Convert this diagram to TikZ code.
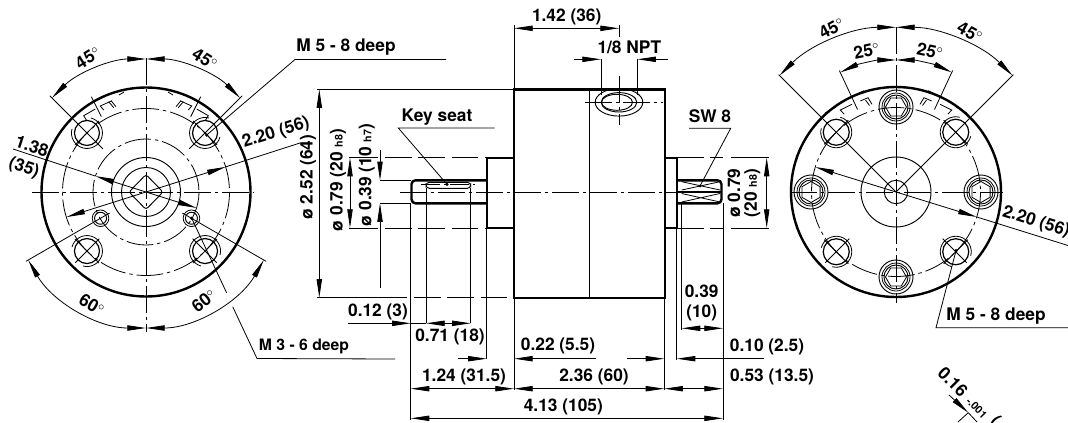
\documentclass[tikz,border=0pt]{standalone}
\usepackage{fontspec}
\setmainfont{TeX Gyre Heros}
\usetikzlibrary{arrows.meta,calc}
\newcommand{\lblfont}{\bfseries\fontsize{13}{15}\selectfont}
\newcommand{\smallfont}{\bfseries\fontsize{11.8}{15}\selectfont}
\newcommand{\subfont}{\fontsize{8}{8}\selectfont}
\newcommand{\dg}{$^{\circ}$}
\tikzset{
	edgeline/.style={line width=1.8pt},
	partline/.style={line width=0.7pt},
	axisline/.style={line width=0.6pt, dash pattern=on 20pt off 3pt on 2.5pt off 3pt},
	gapline/.style={line width=0.6pt, dash pattern=on 20pt off 5pt},
	dimline/.style={line width=0.6pt},
	lbl/.style={font=\lblfont, inner sep=0pt},
	>={Triangle[length=14pt, width=4pt]}
}

\begin{document}
\begin{tikzpicture}[x=0.75pt, y=-0.75pt]
		%%%%% START %%%%%
		\clip (0, 0) rectangle (1068, 422);
		\fill[white] (0, 0) rectangle (1068, 422);
		
		%% left view
		\coordinate (lc) at (146, 192);
		\draw[edgeline] (lc) circle (104.5);
		\draw[partline] (lc) circle (34.5);
		\draw[partline] (lc) circle (24.5);
		\draw[axisline] (lc) circle (83.5);
		\draw[axisline] (lc) circle (53);
		\draw[partline, rounded corners=2pt] (lc) ++(-17, 0) -- ++(17, -17.5) -- ++(17, 17.5) -- ++(-17, 17.5) -- cycle;
		\draw[axisline] (32, 192) -- (253, 192);
		\draw[axisline] (146, 58) -- (146, 332);
		
		\foreach \a in {45, 135, 225, 315}{
			\draw[partline, line width=0.9pt] (lc) ++(\a:83.5) circle (12.5);
			\draw[dimline] (lc) ++(\a:83.5) ++(\a+60:15.5) arc (\a+60:\a+330:15.5);
			\draw[dimline] (lc) ++(\a:83.5) ++(\a+90:17) -- ++(\a-90:34);
		}
		\draw[dimline] (lc) ++(45:66) -- ($(lc)+(45:100)$);
		\draw[dimline] (lc) ++(135:66) -- ($(lc)+(135:100)$);
		
		\foreach \a in {30, 150}{
			\draw[partline] (lc) ++(\a:52.5) circle (6);
			\draw[dimline] (lc) ++(\a:52.5) circle (8.3);
		}
		\fill (191.7, 218.3) circle (1.8);
		\fill (206.7, 135) circle (1.8);
		
		\foreach \s in {1, -1}{
			\begin{scope}[shift={(146, 0)}, xscale=\s]
				\draw[dimline] (30, 106.7) -- (34.7, 101);
				\draw[dimline] (32.3, 107.7) -- (37.3, 101.7);
				\draw[dimline] (34, 100.7) -- (45.7, 106) -- (42.3, 110);
				\draw[dimline] (22, 92) -- (27, 95);
				\draw[dimline] (54.7, 96.7) -- (44.7, 116.7);
				\draw[dimline] (50.7, 109) -- (62.3, 115.7) -- (59, 121);
			\end{scope}
		}
		
		\draw[dimline] (lc) ++(-45:61) -- ($(lc)+(-45:136)$);
		\draw[dimline] (lc) ++(-135:61) -- ($(lc)+(-135:136)$);
		\draw[dimline] (lc) ++(30:42) -- ($(lc)+(30:138.6)$);
		\draw[dimline] (lc) ++(150:42) -- ($(lc)+(150:138.6)$);
		\draw[dimline, <->] (lc) ++(-90:133) arc (-90:-135:133);
		\draw[dimline, <->] (lc) ++(-90:133) arc (-90:-45:133);
		\draw[dimline, <->] (lc) ++(90:136) arc (90:150:136);
		\draw[dimline, <->] (lc) ++(90:136) arc (90:30:136);
		
		\draw[dimline, <->] (lc) ++(162.5:83.5) -- ($(lc)+(-17.5:83.5)$);
		\draw[dimline] (lc) ++(-17.5:83.5) -- (300, 143);
		\draw[dimline, <->] (lc) ++(197.5:53) -- ($(lc)+(17.5:53)$);
		\draw[dimline] (lc) ++(197.5:53) -- (13, 149);
		
		\node[lbl, rotate=32] (ang45a) at (88, 58) {45\dg};
		\node[lbl, rotate=-32] (ang45b) at (205, 59) {45\dg};
		\node[lbl, rotate=-30] (ang60a) at (92, 305) {60\dg};
		\node[lbl, rotate=38] (ang60b) at (204, 301) {60\dg};
		\node[lbl, rotate=-18] (dia138) at (32, 146) {1.38};
		\node[lbl, rotate=-18] (dia35) at (24, 168) {(35)};
		\node[lbl, rotate=17.5] (dia220a) at (276, 133) {2.20 (56)};
		
		\node[lbl] (tapa) at (346, 47) {M 5 - 8 deep};
		\draw[dimline] (206.7, 135) -- (295, 59.5) -- (446, 59.5);
		\node[lbl, font=\smallfont] (tapb) at (304, 346) {M 3 - 6 deep};
		\draw[dimline] (191.7, 218.3) -- (226.7, 293);
		\draw[dimline] (232.7, 306.7) -- (257, 358.5) -- (395, 359);
		
		%% side view
		\draw[edgeline] (514, 89.3) rectangle (665, 297.7);
		\draw[edgeline] (514, 157.7) -- (486.7, 157.7) -- (486.7, 228) -- (514, 228);
		\draw[edgeline, rounded corners=3pt] (486.7, 180.3) -- (411.5, 180.3) -- (411.5, 203.3) -- (486.7, 203.3);
		\draw[edgeline] (665, 157.7) -- (676.7, 157.7) -- (676.7, 228) -- (665, 228);
		\draw[edgeline, rounded corners=3pt] (676.7, 180.3) -- (721.5, 180.3) -- (721.5, 203.3) -- (676.7, 203.3);
		\draw[edgeline] (677, 192) -- (721, 192);
		\draw[partline] (589, 89.3) -- (589, 297.7);
		\draw[axisline] (400, 192) -- (677, 192);
		
		\draw[partline, rounded corners=2.5pt] (426, 182.3) rectangle (470.7, 188.3);
		\draw[dimline, dash pattern=on 14pt off 3pt on 2pt off 3pt] (421, 184.3) -- (475, 184.3);
		\fill (447, 184.3) circle (1.8);
		\draw[dimline] (447, 184.3) -- (398.3, 128) -- (494.7, 128);
		\node[lbl] (keyseat) at (437, 116.7) {Key seat};
		
		\draw[dimline] (681.7, 181.7) -- (720, 190) (681.7, 190) -- (720, 181.7);
		\draw[dimline] (681.7, 193.5) -- (720, 202) (681.7, 202) -- (720, 193.5);
		\fill (700, 186) circle (1.5);
		\draw[dimline] (700, 186) -- (730.7, 128.3) -- (689, 128.3);
		\node[lbl] (sw8) at (710, 116) {SW 8};
		
		\draw[partline] (619, 102.3) ellipse (23.8 and 13.8);
		\draw[partline] (619, 102.3) ellipse (17.8 and 9.7);
		\draw[partline] (617, 102.3) ellipse (15.5 and 8);
		\draw[axisline] (585, 102.3) -- (663.3, 102.3);
		\draw[axisline] (619, 76) -- (619, 125);
		
		%% dimensions of the side view
		\draw[dimline] (514, 25) -- (514, 89.3);
		\draw[dimline] (619, 25) -- (619, 36.7);
		\draw[dimline, <->] (514, 28.3) -- (619, 28.3);
		\node[lbl] (len142) at (566.7, 16.7) {1.42 (36)};
		
		\draw[dimline] (601, 59.3) -- (601, 95);
		\draw[dimline] (637.3, 59.3) -- (637.3, 95);
		\draw[dimline, ->] (574, 59.3) -- (601, 59.3);
		\draw[dimline, ->] (668, 59.3) -- (637.3, 59.3);
		\node[lbl] (npt) at (629.3, 47.3) {1/8 NPT};
		
		\draw[dimline] (317, 89.3) -- (514, 89.3);
		\draw[dimline] (317, 297.7) -- (407, 297.7);
		\draw[gapline] (414, 297.7) -- (514, 297.7);
		\draw[dimline, <->] (319.3, 89.3) -- (319.3, 297.7);
		\node[lbl, rotate=90] (dia252) at (308, 177) {ø 2.52 (64)};
		
		\draw[dimline] (349, 157.7) -- (378, 157.7);
		\draw[dimline] (349, 228) -- (378, 228);
		\draw[gapline] (385, 157.7) -- (486, 157.7);
		\draw[gapline] (385, 228) -- (486, 228);
		\draw[dimline, <->] (350, 157.7) -- (350, 228);
		\node[lbl, rotate=90] (dia079a) at (338, 180) {ø 0.79 (20 {\subfont h8})};
		
		\draw[dimline] (380, 180.3) -- (411, 180.3);
		\draw[dimline] (380, 203.3) -- (411, 203.3);
		\draw[dimline, ->] (380, 150) -- (380, 180.3);
		\draw[dimline, ->] (380, 288) -- (380, 203.3);
		\node[lbl, rotate=90] (dia039) at (366.7, 175) {ø 0.39 (10 {\subfont h7})};
		
		\draw[dimline] (410.7, 203.3) -- (410.7, 420);
		\draw[dimline] (426, 188.3) -- (426, 323.3);
		\draw[dimline] (470.7, 188.3) -- (470.7, 323.3);
		\draw[dimline] (486.7, 228) -- (486.7, 358.7);
		\draw[dimline] (514, 297.7) -- (514, 390);
		\draw[dimline] (664.3, 297.7) -- (664.3, 390);
		\draw[dimline] (676.7, 228) -- (676.7, 360);
		\draw[dimline] (681.7, 203.3) -- (681.7, 330);
		\draw[dimline] (723, 203.3) -- (723, 420);
		
		\draw[dimline, ->] (348, 323.3) -- (410.7, 323.3);
		\node[lbl] (len012) at (378, 311.7) {0.12 (3)};
		\draw[dimline] (410.7, 323.3) -- (426, 323.3);
		\draw[dimline, <->] (426, 323.3) -- (470.7, 323.3);
		\node[lbl] (len071) at (450, 337.3) {0.71 (18)};
		
		\draw[dimline, ->] (458, 358.7) -- (486.7, 358.7);
		\draw[dimline, ->] (596, 358.7) -- (514, 358.7);
		\node[lbl] (len022) at (558, 346) {0.22 (5.5)};
		\draw[dimline, ->] (626.7, 358.7) -- (664.3, 358.7);
		\draw[dimline, ->] (764, 358.7) -- (676.7, 358.7);
		\node[lbl] (len010) at (767, 346.5) {0.10 (2.5)};
		
		\draw[dimline, <->] (410.7, 388.7) -- (514, 388.7);
		\draw[dimline, <->] (514, 388.7) -- (664.3, 388.7);
		\draw[dimline, <->] (664.3, 388.7) -- (723, 388.7);
		\node[lbl] (len124) at (464, 376.7) {1.24 (31.5)};
		\node[lbl] (len236) at (594, 376.7) {2.36 (60)};
		\node[lbl] (len053) at (772, 377) {0.53 (13.5)};
		
		\draw[dimline, <->] (410.7, 418.3) -- (723, 418.3);
		\node[lbl] (len413) at (563.3, 407.3) {4.13 (105)};
		
		\draw[dimline, <->] (681.7, 328.3) -- (723, 328.3);
		\node[lbl] (len039a) at (701.7, 291.7) {0.39};
		\node[lbl] (len039b) at (701.7, 312.7) {(10)};
		
		\draw[gapline] (677, 157.7) -- (723, 157.7);
		\draw[gapline] (677, 228) -- (723, 228);
		\draw[dimline] (731, 157.7) -- (769, 157.7);
		\draw[dimline] (731, 228) -- (769, 228);
		\draw[dimline, <->] (766.7, 157.7) -- (766.7, 228);
		\node[lbl, rotate=90] (dia079b) at (734, 193) {ø 0.79};
		\node[lbl, rotate=90] (dia20) at (752.3, 193) {(20 {\subfont h8})};
		
		%% right view
		\coordinate (rc) at (896, 192);
		\draw[edgeline] (rc) circle (105);
		\draw[partline] (rc) circle (35);
		\draw[partline] (rc) circle (11.7);
		\draw[axisline] (rc) circle (84.5);
		\draw[axisline] (790, 192) -- (1003, 192);
		\draw[axisline] (896, 27) -- (896, 303);
		
		\foreach \a in {0, 90, 180, 270}{
			\begin{scope}[shift={(rc)}, rotate=\a]
				\draw[partline] (85, 0) circle (17);
				\draw[dimline] (85, 0) circle (14);
				\draw[partline] (85, 0) circle (12);
				\draw[dimline] (85, 0) +(30:10.5) -- +(90:10.5) -- +(150:10.5) -- +(210:10.5) -- +(270:10.5) -- +(330:10.5) -- cycle;
			\end{scope}
		}
		\foreach \a in {45, 135, 225, 315}{
			\draw[partline, line width=0.9pt] (rc) ++(\a:84.5) circle (13);
			\draw[dimline] (rc) ++(\a:84.5) ++(\a+60:15.5) arc (\a+60:\a+330:15.5);
			\draw[dimline] (rc) ++(\a:84.5) ++(\a+90:17) -- ++(\a-90:34);
		}
		\draw[dimline] (rc) ++(45:66) -- ($(rc)+(45:100)$);
		\draw[dimline] (rc) ++(135:66) -- ($(rc)+(135:100)$);
		\fill (956, 250.7) circle (1.8);
		
		\foreach \s in {1, -1}{
			\begin{scope}[shift={(896, 0)}, xscale=\s]
				\draw[dimline] (24, 104.3) -- (28, 97.7) -- (35.7, 101);
				\draw[dimline] (26.5, 105.5) -- (30.5, 100);
				\draw[dimline] (44, 104.3) -- (55.7, 110) -- (52, 114);
				\draw[dimline] (32.3, 90.7) -- (37.3, 93.3);
				\draw[dimline] (60, 107) -- (71, 113);
			\end{scope}
		}
		
		\draw[dimline] (rc) -- ($(rc)+(-45:166)$);
		\draw[dimline] (rc) -- ($(rc)+(-135:166)$);
		\draw[dimline] (rc) ++(-65:91) -- ($(rc)+(-65:134)$);
		\draw[dimline] (rc) ++(-115:91) -- ($(rc)+(-115:134)$);
		\draw[dimline, <->] (rc) ++(-90:164.7) arc (-90:-135:164.7);
		\draw[dimline, <->] (rc) ++(-90:164.7) arc (-90:-45:164.7);
		\draw[dimline, <->] (rc) ++(-90:132) arc (-90:-115:132);
		\draw[dimline, <->] (rc) ++(-90:132) arc (-90:-65:132);
		
		\draw[dimline, <->] (rc) ++(197.2:84.5) -- ($(rc)+(17.2:84.5)$);
		\draw[dimline] (rc) ++(17.2:84.5) -- (1068, 245.5);
		
		\node[lbl, rotate=28] (ang45c) at (831.7, 28.3) {45\dg};
		\node[lbl, rotate=-28] (ang45d) at (970, 32.7) {45\dg};
		\node[lbl, rotate=12] (ang25a) at (866.7, 50.7) {25\dg};
		\node[lbl, rotate=-12] (ang25b) at (930, 50.7) {25\dg};
		\node[lbl, rotate=-17.2] (dia220b) at (1036, 222) {2.20 (56)};
		
		\draw[dimline] (956, 250.7) -- (936, 327.7) -- (1068, 327.7);
		\node[lbl] (tapc) at (996, 315.7) {M 5 - 8 deep};
		
		%% cut off corner
		\coordinate (cut) at (968.3, 412.7);
		\draw[dimline, <-] (cut) -- (949, 395);
		\draw[dimline] (cut) -- (958, 422);
		\draw[dimline] (cut) -- (977, 422);
		\node[lbl, rotate=-45] (len016) at (953, 382) {0.16};
		\node[lbl, rotate=-45, font=\bfseries\subfont] (tol) at (976.7, 408) {-.001};
		\node[lbl, rotate=-45] (paren) at (995, 421) {(};
		
		%%%%% END %%%%%
	\end{tikzpicture}
\end{document}
